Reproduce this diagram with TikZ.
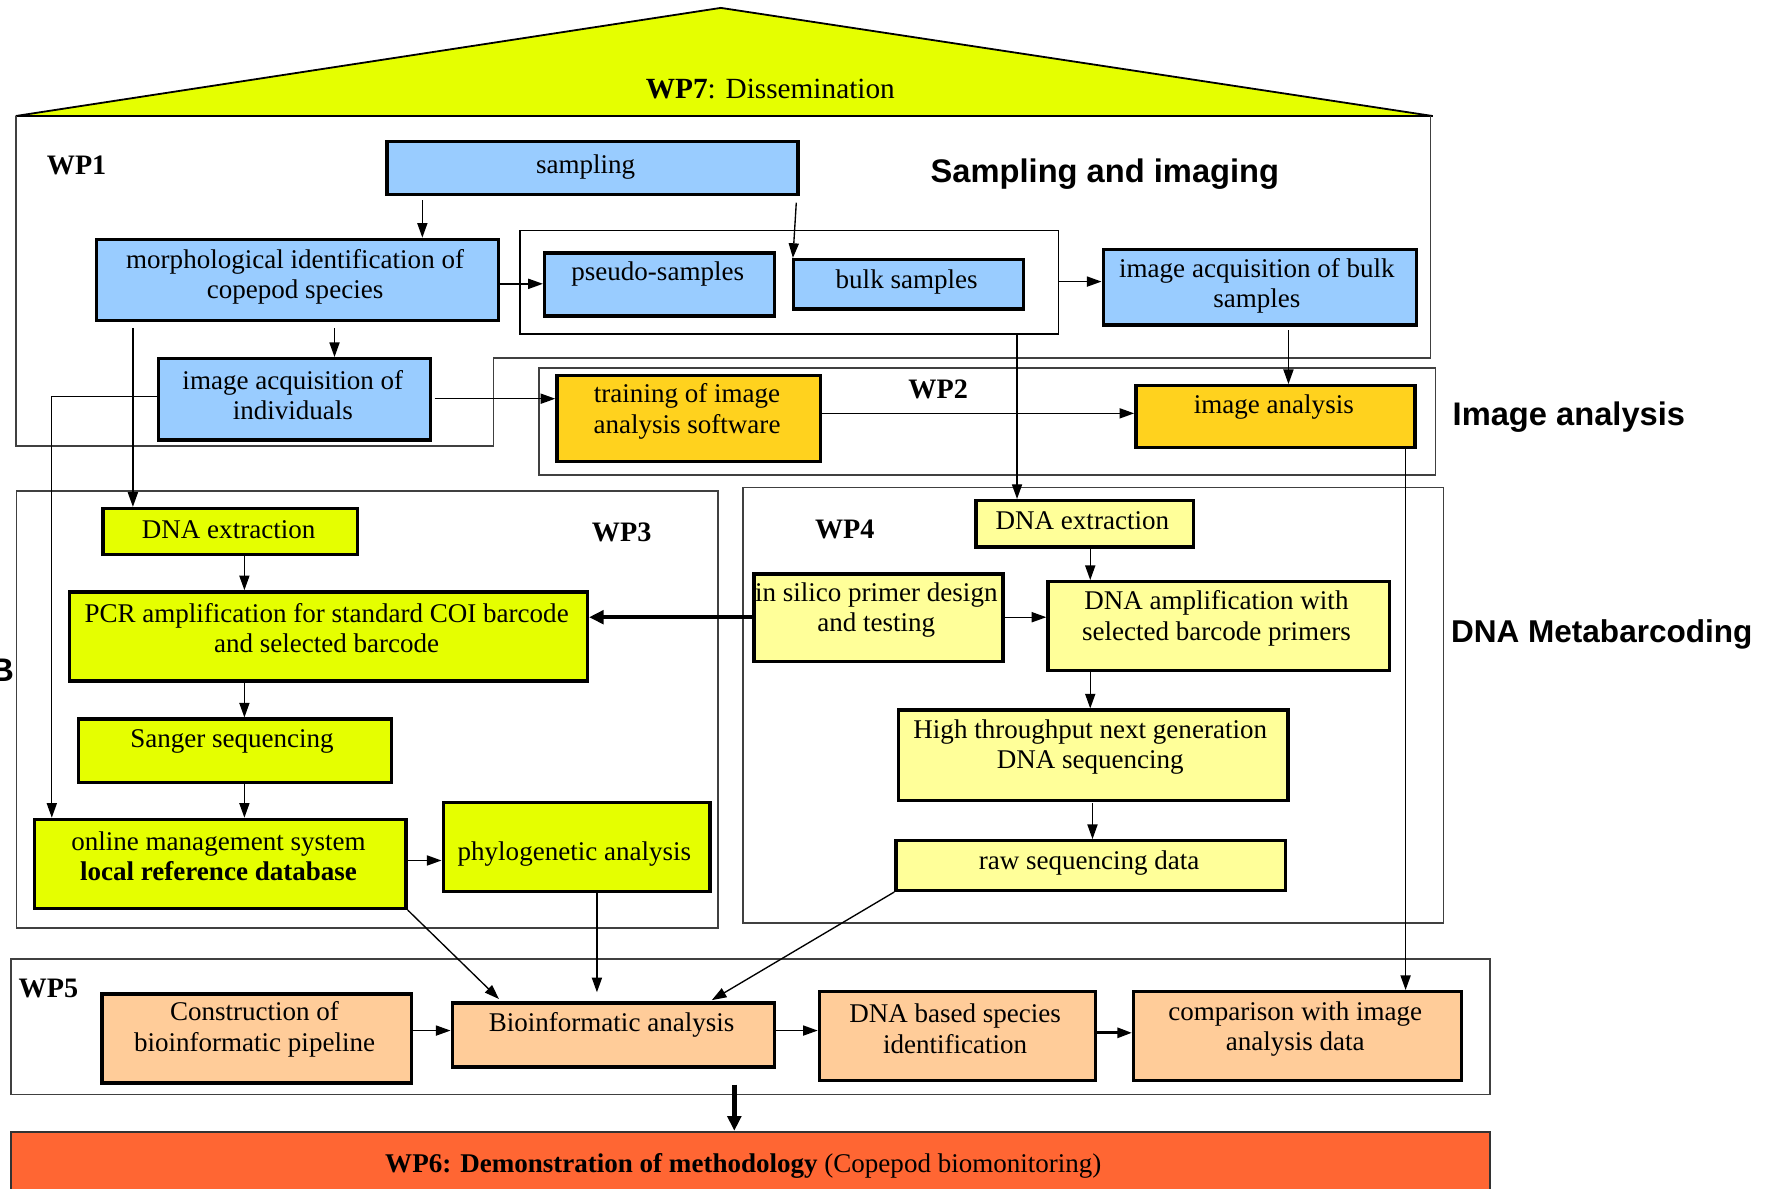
\documentclass[tikz,border=0pt]{standalone}
\usepackage{fontspec}
\setmainfont{Liberation Serif}
\setsansfont{Liberation Sans}
\usetikzlibrary{arrows.meta,calc}
\definecolor{wpyellow}{RGB}{229,255,0}
\definecolor{wpblue}{RGB}{153,204,255}
\definecolor{wporange}{RGB}{255,210,30}
\definecolor{wplight}{RGB}{255,255,153}
\definecolor{wppeach}{RGB}{255,204,153}
\definecolor{wpred}{RGB}{255,102,51}
\newcommand\mybox[6]{\node[#1, anchor=north west, minimum width={(#5-#3)*0.5pt}, minimum height={(#6-#4)*0.5pt}] (#2) at (#3,#4) {};}
\begin{document}
\begin{tikzpicture}[x=0.5pt,y=-0.5pt,
  box/.style={draw, line width=1.5pt, inner sep=0pt},
  grpbox/.style={draw, line width=0.7pt, inner sep=0pt},
  frame/.style={draw=black!75, line width=0.7pt},
  txt/.style={font=\fontsize{12}{13.5}\selectfont, align=center, inner sep=0pt, yshift=-1.2pt},
  wplabel/.style={font=\fontsize{12.5}{14}\selectfont\bfseries, inner sep=0pt},
  head/.style={font=\fontsize{14.5}{16}\selectfont\sffamily\bfseries, inner sep=0pt, yshift=-1pt},
  arr/.style={-{Triangle[length=6.5pt,width=4.5pt]}, line width=0.6pt},
  thickarr/.style={-{Triangle[length=6.5pt,width=6pt]}, line width=1.8pt}]
\useasboundingbox (0,0) rectangle (1568,1055);

% roof
\draw[fill=wpyellow, line width=0.8pt] (14,103) -- (640,7) -- (1272,103) -- cycle;
\draw[line width=1.3pt] (14,103) -- (1272,103);
\node[font=\fontsize{13}{15}\selectfont, inner sep=0pt, yshift=-1pt] (wp7) at (684,77) {\textbf{WP7}: Dissemination};

% frames
\draw[frame] (14,103) -- (14,396) -- (438,396) -- (438,318) -- (1270,318) -- (1270,103);
\mybox{frame}{wp2frame}{478}{326}{1274}{421}
\mybox{frame}{wp3frame}{14}{435}{637}{823}
\mybox{frame}{wp4frame}{659}{432}{1281}{819}
\mybox{frame}{wp5frame}{9}{851}{1322}{971}

% labels
\node[wplabel] (wp1) at (68,147) {WP1};
\node[wplabel] (wp2) at (833,346) {WP2};
\node[wplabel] (wp3) at (552,473) {WP3};
\node[wplabel] (wp4) at (750,470) {WP4};
\node[wplabel] (wp5) at (43,878) {WP5};
\node[head] (h1) at (981,153) {Sampling and imaging};
\node[head] (h2) at (1393,368) {Image analysis};
\node[head, anchor=west, font=\fontsize{14}{16}\selectfont\sffamily\bfseries] (h3) at (1288,561) {DNA Metabarcoding};
\node[head] (hb) at (2,593) {B};

% WP1 boxes
\mybox{box, fill=wpblue}{sampling}{342}{124}{707}{171}
\mybox{box, fill=wpblue}{morph}{84}{211}{441}{283}
\mybox{grpbox}{group}{461}{204}{939}{296}
\mybox{box, fill=wpblue}{pseudo}{482}{223}{686}{279}
\mybox{box, fill=wpblue}{bulk}{703}{229}{907}{273}
\mybox{box, fill=wpblue}{acqbulk}{978}{220}{1256}{287}
\mybox{box, fill=wpblue}{indiv}{139}{317}{381}{389}
\node[txt] (t1) at (520,146) {sampling};
\node[txt] (t2) at (262,243.5) {morphological identification of\\copepod species};
\node[txt] (t3) at (584,241) {pseudo-samples};
\node[txt] (t4) at (805,248) {bulk samples};
\node[txt] (t5) at (1116,251.5) {image acquisition of bulk\\samples};
\node[txt] (t6) at (260,348.5) {image acquisition of\\individuals};

% WP2 boxes
\mybox{box, fill=wporange}{training}{493}{332}{727}{408}
\mybox{box, fill=wporange}{imgana}{1007}{341}{1255}{396}
\node[txt] (t7) at (610,363) {training of image\\analysis software};
\node[txt] (t8) at (1131,359) {image analysis};

% WP3 boxes
\mybox{box, fill=wpyellow}{dnaext}{90}{450}{316}{491}
\mybox{box, fill=wpyellow}{pcr}{60}{524}{520}{603}
\mybox{box, fill=wpyellow}{sanger}{68}{637}{346}{693}
\mybox{box, fill=wpyellow}{online}{29}{726}{359}{805}
\mybox{box, fill=wpyellow}{phylo}{392}{711}{629}{790}
\node[txt] (t9) at (203,468) {DNA extraction};
\node[txt] (t10) at (290,555.5) {PCR amplification for standard COI barcode\\and selected barcode};
\node[txt] (t11) at (206,656) {Sanger sequencing};
\node[txt] (t12) at (194,758) {online management system\\\textbf{local reference database}};
\node[txt] (t13) at (510,756) {phylogenetic analysis};

% WP4 boxes
\mybox{box, fill=wplight}{dnaext4}{865}{443}{1058}{484}
\mybox{box, fill=wplight}{silico}{668}{508}{889}{586}
\mybox{box, fill=wplight}{amp}{929}{515}{1232}{594}
\mybox{box, fill=wplight}{hts}{796}{629}{1142}{709}
\mybox{box, fill=wplight}{raw}{794}{745}{1140}{789}
\node[txt] (t14) at (961,460) {DNA extraction};
\node[txt] (t15) at (778,539) {in silico primer design\\and testing};
\node[txt] (t16) at (1080,546.5) {DNA amplification with\\selected barcode primers};
\node[txt] (t17) at (968,661) {High throughput next generation\\DNA sequencing};
\node[txt] (t18) at (967,764) {raw sequencing data};

% WP5 boxes
\mybox{box, fill=wppeach}{constr}{89}{881}{364}{960}
\mybox{box, fill=wppeach}{bioinf}{400}{889}{686}{946}
\mybox{box, fill=wppeach}{dnaid}{726}{879}{971}{958}
\mybox{box, fill=wppeach}{comp}{1005}{879}{1296}{958}
\node[txt] (t19) at (226,911.5) {Construction of\\bioinformatic pipeline};
\node[txt] (t20) at (543,908) {Bioinformatic analysis};
\node[txt] (t21) at (848,911) {DNA based species\\identification};
\node[txt] (t22) at (1150,911) {comparison with image\\analysis data};

% WP6
\node[draw=black!80, line width=0.8pt, fill=wpred, anchor=north west, minimum width={1313*0.5pt}, minimum height={60*0.5pt}, inner sep=0pt] (wp6) at (9,1004) {};
\node[txt] (t23) at (660,1033) {\textbf{WP6: Demonstration of methodology} (Copepod biomonitoring)};

% connectors WP1
\draw[arr] (375,178) -- (375,0 |- morph.north);
\draw[arr] (707,180) -- (704,0 |- bulk.north);
\draw[arr] (morph.east |- 0,252) -- (pseudo.west |- 0,252);
\draw[arr] (group.east |- 0,250) -- (acqbulk.west |- 0,250);
\draw[arr] (297,291) -- (297,0 |- indiv.north);
\draw[arr] (1144,293) -- (1144,0 |- imgana.north);
\draw[arr] (386,354) -- (training.west |- 0,354);
\draw[arr] (training.east |- 0,367) -- (imgana.west |- 0,367);
\draw[arr] (118,291) -- (118,0 |- dnaext.north);
\draw[arr] (indiv.west |- 0,352) -- (46,352) -- (46,0 |- online.north);
\draw[arr] (group.south -| 903,0) -- (903,0 |- dnaext4.north);
\draw[arr] (imgana.south -| 1248,0) -- (1248,0 |- comp.north);

% connectors WP3
\draw[arr] (dnaext.south -| 217,0) -- (217,0 |- pcr.north);
\draw[arr] (pcr.south -| 217,0) -- (217,0 |- sanger.north);
\draw[arr] (sanger.south -| 217,0) -- (217,0 |- online.north);
\draw[arr] (362,764) -- (phylo.west |- 0,764);
\draw[thickarr] (silico.west |- 0,548) -- (pcr.east |- 0,548);

% connectors WP4
\draw[arr] (silico.east |- 0,548) -- (amp.west |- 0,548);
\draw[arr] (dnaext4.south -| 968,0) -- (968,0 |- amp.north);
\draw[arr] (amp.south -| 968,0) -- (968,0 |- hts.north);
\draw[arr] (970,713) -- (970,0 |- raw.north);

% to WP5
\draw[arr] (online.south east) -- (443,887);
\draw[arr] (phylo.south -| 530,0) -- (530,881);
\draw[arr] (raw.south west) -- (632,888);
\draw[arr] (constr.east |- 0,915) -- (bioinf.west |- 0,915);
\draw[arr] (bioinf.east |- 0,915) -- (dnaid.west |- 0,915);
\draw[arr, line width=1.2pt] (dnaid.east |- 0,917) -- (comp.west |- 0,917);
\draw[thickarr, line width=2.4pt] (652,963) -- (652,0 |- wp6.north);
\end{tikzpicture}
\end{document}
